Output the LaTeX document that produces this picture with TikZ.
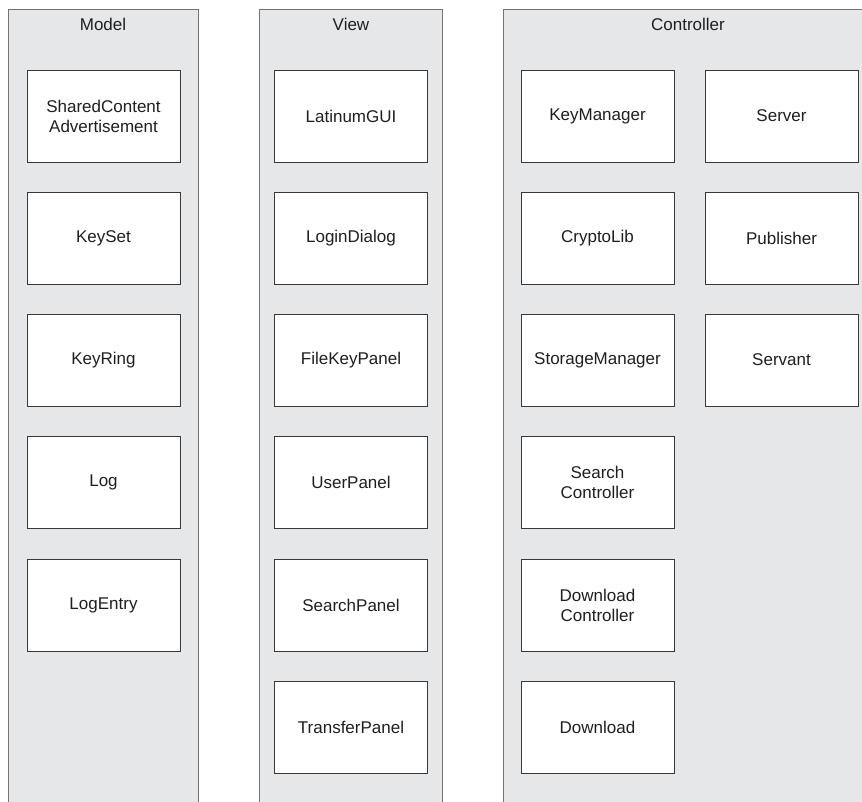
\documentclass[tikz,border=0pt]{standalone}
\usepackage{fontspec}
\setmainfont{Liberation Sans}
\begin{document}
\begin{tikzpicture}[x=1pt,y=-1pt,
  lane/.style={draw=black!55, fill=laneGray, line width=1pt},
  cls/.style={draw=black!78, fill=white, line width=0.9pt, minimum width=153pt,
    minimum height=92pt, inner sep=0pt, align=center, text=black!88,
    font=\fontsize{17}{20}\selectfont},
  lanetitle/.style={text=black!88, font=\fontsize{17}{20}\selectfont, inner sep=0pt}]
\definecolor{laneGray}{HTML}{E6E7E9}
\useasboundingbox (0,0) rectangle (862,801);
\clip (0,0) rectangle (862,801);

% swim lanes (open towards the bottom and right)
\draw[lane] (8,9) rectangle (198,830);
\draw[lane] (259,9) rectangle (442.5,830);
\draw[lane] (503,9) rectangle (873,830);

\node[lanetitle] (tModel) at (103,24) {Model};
\node[lanetitle] (tView) at (351,24) {View};
\node[lanetitle] (tCtrl) at (688,24) {Controller};

% Model
\node[cls] (sca) at (103.5,116) {SharedContent\\Advertisement};
\node[cls] (keyset) at (103.5,238) {KeySet};
\node[cls] (keyring) at (103.5,360) {KeyRing};
\node[cls] (log) at (103.5,482) {Log};
\node[cls] (logentry) at (103.5,605) {LogEntry};

% View
\node[cls] (gui) at (351,116) {LatinumGUI};
\node[cls] (login) at (351,238) {LoginDialog};
\node[cls] (filekey) at (351,360) {FileKeyPanel};
\node[cls] (user) at (351,482) {UserPanel};
\node[cls] (search) at (351,605) {SearchPanel};
\node[cls] (transfer) at (351,727) {TransferPanel};

% Controller
\node[cls] (keymgr) at (597.5,116) {KeyManager};
\node[cls] (crypto) at (597.5,238) {CryptoLib};
\node[cls] (storage) at (597.5,360) {StorageManager};
\node[cls] (searchc) at (597.5,482) {Search\\Controller};
\node[cls] (downc) at (597.5,605) {Download\\Controller};
\node[cls] (download) at (597.5,727) {Download};
\node[cls] (server) at (781.5,116) {Server};
\node[cls] (publisher) at (781.5,238) {Publisher};
\node[cls] (servant) at (781.5,360) {Servant};
\end{tikzpicture}
\end{document}
